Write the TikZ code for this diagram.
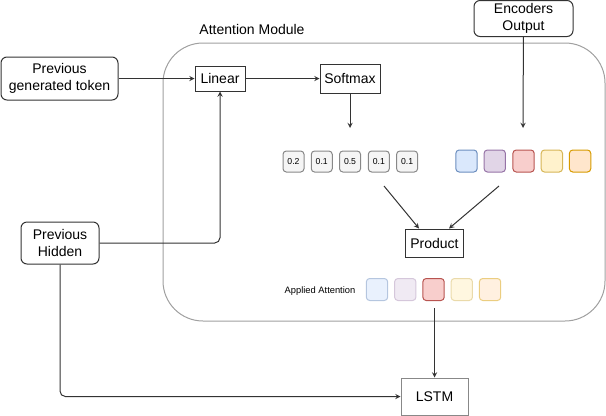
\documentclass[tikz,border=0pt]{standalone}
\usepackage{fontspec}
\setmainfont{Liberation Sans}
\usepackage{tikz}
\usetikzlibrary{positioning, calc}
\definecolor{boxline}{HTML}{333333}
\definecolor{modline}{HTML}{A0A0A0}
\definecolor{wfill}{HTML}{F5F5F5}
\definecolor{wline}{HTML}{888888}
\definecolor{bluefill}{HTML}{DAE8FC}\definecolor{blueline}{HTML}{6C8EBF}
\definecolor{purplefill}{HTML}{E1D5E7}\definecolor{purpleline}{HTML}{9673A6}
\definecolor{redfill}{HTML}{F8CECC}\definecolor{redline}{HTML}{B85450}
\definecolor{yellowfill}{HTML}{FFF2CC}\definecolor{yellowline}{HTML}{D6B656}
\definecolor{orangefill}{HTML}{FFE6CC}\definecolor{orangeline}{HTML}{D79B00}
\tikzstyle{inputbox} = [rectangle, rounded corners=4.5pt, text centered, draw = boxline, line width=0.75pt, font=\fontsize{10.5}{12.75}\selectfont]
\tikzstyle{process} = [rectangle, text centered, draw = boxline, line width=0.75pt, font=\fontsize{10.5}{12.75}\selectfont]
\tikzstyle{weight} = [rectangle, rounded corners=2.5pt, minimum width=15.75pt, minimum height=15.75pt, inner sep=0pt, fill = wfill, draw = wline, line width=0.75pt, font=\fontsize{6.5}{7}\selectfont]
\tikzstyle{vecbox} = [rectangle, rounded corners=2.5pt, minimum width=16pt, minimum height=16.5pt, inner sep=0pt, line width=0.75pt]
\tikzstyle{arrow} = [->, >=stealth, draw = boxline, line width=0.75pt]

\begin{document}
\begin{tikzpicture}[x=0.75pt, y=-0.75pt, align=center, node distance=21.2pt]
    \useasboundingbox (0,0) rectangle (606,415);
    % attention module frame
    \draw [modline, line width=0.75pt, rounded corners=30pt] (163,43) rectangle (605,321);
    \node (modlabel) at (252,29) [font=\fontsize{10.5}{12.75}\selectfont] {Attention Module};

    % inputs and processing steps
    \node (prevtok) [inputbox, minimum width=87.75pt, minimum height=32.25pt] at (59.5,78.5) {Previous\\generated token};
    \node (linear) [process, minimum width=37.5pt, minimum height=18.75pt, inner sep=1pt] at (220,78.5) {Linear};
    \node (softmax) [process, minimum width=45pt, minimum height=21.75pt, inner sep=1pt] at (350,78.5) {Softmax};
    \node (encout) [inputbox, minimum width=74.25pt, minimum height=27pt, inner sep=1pt] at (523.5,18.5) {Encoders\\Output};
    \node (product) [process, minimum width=42.75pt, minimum height=21pt] at (434.5,243) {Product};
    \node (prevhid) [inputbox, minimum width=58.5pt, minimum height=31.5pt] at (60,243) {Previous\\Hidden};
    \node (lstm) [process, draw = wline, minimum width=50.25pt, minimum height=27.75pt] at (434.5,396.5) {LSTM};

    % attention weights
    \node (w1) [weight] at (293.5,161.5) {0.2};
    \node (w2) [weight, right of = w1] {0.1};
    \node (w3) [weight, right of = w2] {0.5};
    \node (w4) [weight, right of = w3, xshift = 0.4pt] {0.1};
    \node (w5) [weight, right of = w4] {0.1};

    % encoder vectors
    \node (c1) [vecbox, fill = bluefill, draw = blueline] at (466.5,161) {};
    \node (c2) [vecbox, fill = purplefill, draw = purpleline, right of = c1] {};
    \node (c3) [vecbox, fill = redfill, draw = redline, right of = c2, xshift = 0.4pt] {};
    \node (c4) [vecbox, fill = yellowfill, draw = yellowline, right of = c3] {};
    \node (c5) [vecbox, fill = orangefill, draw = orangeline, right of = c4] {};

    % applied attention
    \node (applabel) at (320,291) [font=\fontsize{7}{8}\selectfont] {Applied Attention};
    \node (a1) [vecbox, fill = bluefill!60, draw = blueline!50] at (377,289.5) {};
    \node (a2) [vecbox, fill = purplefill!50, draw = purpleline!40, right of = a1] {};
    \node (a3) [vecbox, fill = redfill, draw = redline, right of = a2] {};
    \node (a4) [vecbox, fill = yellowfill!60, draw = yellowline!50, right of = a3] {};
    \node (a5) [vecbox, fill = orangefill!60, draw = orangeline!50, right of = a4] {};

    % free arrow ends
    \coordinate (smend) at (350,128);
    \coordinate (encend) at (523,128);
    \coordinate (wfrom) at (384,186);
    \coordinate (cfrom) at (499,186);
    \coordinate (afrom) at (434.5,308);

    % connectors
    \draw [arrow] (prevtok) -- (linear);
    \draw [arrow] (linear) -- (softmax);
    \draw [arrow] (softmax) -- (smend);
    \draw [arrow] (encout) -- (encend);
    \draw [arrow] (wfrom) -- ($(product.north) + (-15.5,0)$);
    \draw [arrow] (cfrom) -- ($(product.north) + (14.5,0)$);
    \draw [arrow, rounded corners=4pt] (prevhid) -| (linear);
    \draw [arrow, rounded corners=4pt] (prevhid) |- (lstm);
    \draw [arrow] (afrom) -- (lstm);
\end{tikzpicture}
\end{document}
